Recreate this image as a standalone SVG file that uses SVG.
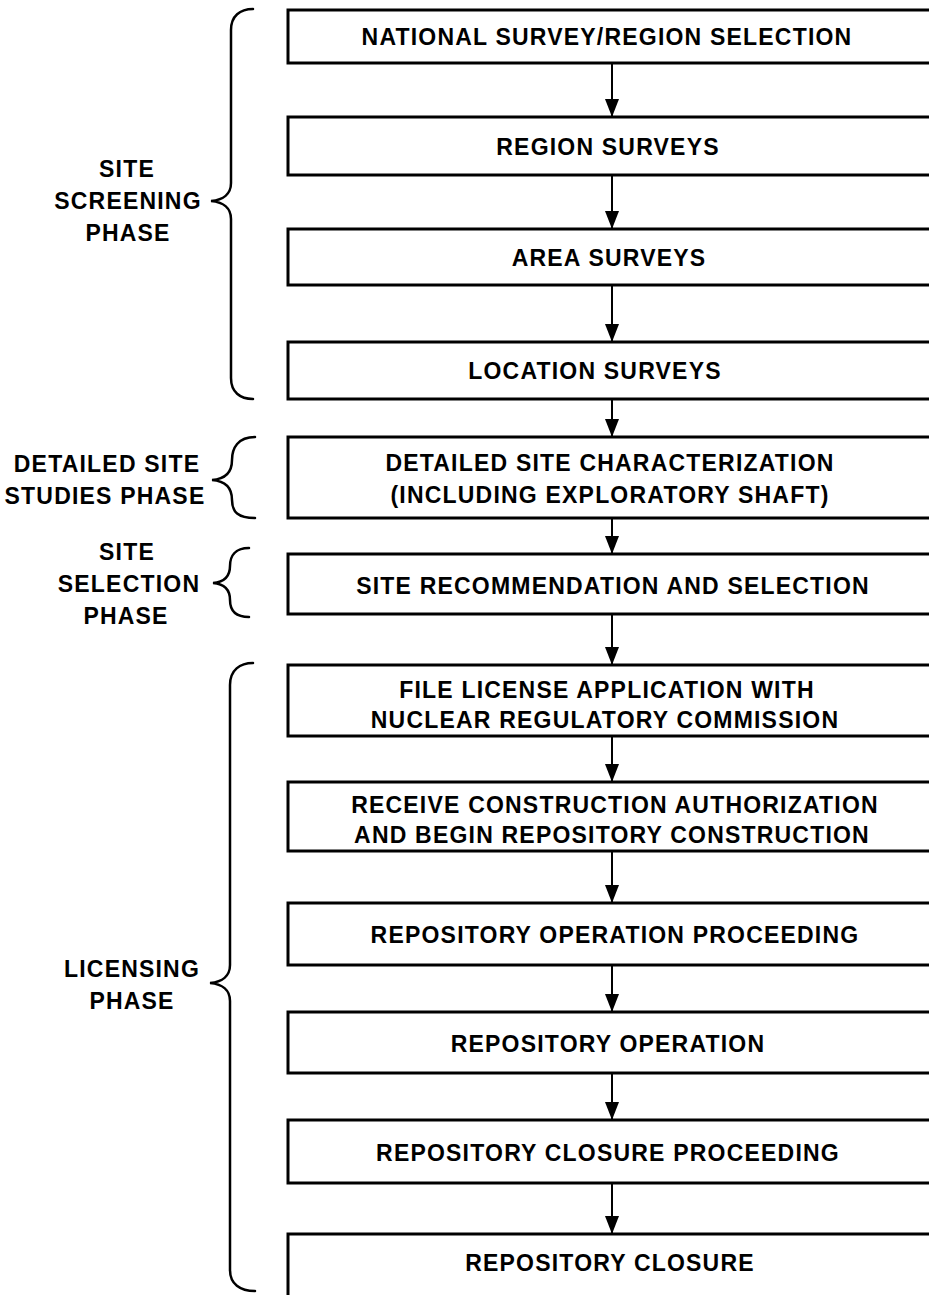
<svg xmlns="http://www.w3.org/2000/svg" width="929" height="1295" viewBox="0 0 929 1295">
  <style>
    .box { fill: #fff; stroke: #000; stroke-width: 3; }
    .t { font-family: "Liberation Sans", Arial, sans-serif; font-weight: bold; font-size: 23px; letter-spacing: 1.2px; fill: #000; text-anchor: middle; }
    .brace { fill: none; stroke: #000; stroke-width: 2.5; stroke-linecap: round; }
    .conn { stroke: #000; stroke-width: 2; fill: none; }
  </style>
  <defs>
    <!-- filled arrowhead, drawn along +x so orient="auto" turns it down the line -->
    <marker id="arrow" markerUnits="userSpaceOnUse" markerWidth="18" markerHeight="14" refX="18" refY="7" orient="auto" viewBox="0 0 18 14">
      <path d="M0,0 L18,7 L0,14 Z" fill="#000"/>
    </marker>
  </defs>
  <rect width="929" height="1295" fill="#fff"/>

  <!-- phase braces and labels -->
  <g id="phase-screening">
    <path class="brace" d="M253,9 C240,9 231,16 231,30 L231,183 C231,194 223,200 211,201 C223,202 231,208 231,219 L231,378 C231,392 240,399 253,399"/>
    <text class="t" x="127" y="177">SITE</text>
    <text class="t" x="128" y="209">SCREENING</text>
    <text class="t" x="128" y="241">PHASE</text>
  </g>
  <g id="phase-detailed">
    <path class="brace" d="M255,437 C238,437 232,448 232,460 C232,472 226,479 212,480 C226,481 232,488 232,500 C232,512 238,518 255,518"/>
    <text class="t" x="107" y="472">DETAILED SITE</text>
    <text class="t" x="105" y="504">STUDIES PHASE</text>
  </g>
  <g id="phase-selection">
    <path class="brace" d="M249,548 C235,548 230,556 230,566 C230,576 225,582 213,583 C225,584 230,590 230,600 C230,610 235,617 249,617"/>
    <text class="t" x="127" y="560">SITE</text>
    <text class="t" x="129" y="592">SELECTION</text>
    <text class="t" x="126" y="624">PHASE</text>
  </g>
  <g id="phase-licensing">
    <path class="brace" d="M253,663 C240,663 230,670 230,685 L230,965 C230,976 222,982 210,983 C222,984 230,990 230,1001 L230,1270 C230,1284 240,1291 255,1291"/>
    <text class="t" x="132" y="977">LICENSING</text>
    <text class="t" x="132" y="1009">PHASE</text>
  </g>

  <!-- connectors -->
  <g id="connectors">
    <line class="conn" x1="612" y1="63" x2="612" y2="117" marker-end="url(#arrow)"/>
    <line class="conn" x1="612" y1="175" x2="612" y2="229" marker-end="url(#arrow)"/>
    <line class="conn" x1="612" y1="285" x2="612" y2="342" marker-end="url(#arrow)"/>
    <line class="conn" x1="612" y1="399" x2="612" y2="437" marker-end="url(#arrow)"/>
    <line class="conn" x1="612" y1="518" x2="612" y2="554" marker-end="url(#arrow)"/>
    <line class="conn" x1="612" y1="614" x2="612" y2="665" marker-end="url(#arrow)"/>
    <line class="conn" x1="612" y1="736" x2="612" y2="782" marker-end="url(#arrow)"/>
    <line class="conn" x1="612" y1="851" x2="612" y2="903" marker-end="url(#arrow)"/>
    <line class="conn" x1="612" y1="965" x2="612" y2="1012" marker-end="url(#arrow)"/>
    <line class="conn" x1="612" y1="1073" x2="612" y2="1120" marker-end="url(#arrow)"/>
    <line class="conn" x1="612" y1="1183" x2="612" y2="1234" marker-end="url(#arrow)"/>
  </g>

  <!-- process steps -->
  <g id="n1"><rect class="box" x="288" y="10" width="660" height="53"/>
    <text class="t" x="607" y="45">NATIONAL SURVEY/REGION SELECTION</text></g>
  <g id="n2"><rect class="box" x="288" y="117" width="660" height="58"/>
    <text class="t" x="608" y="155">REGION SURVEYS</text></g>
  <g id="n3"><rect class="box" x="288" y="229" width="660" height="56"/>
    <text class="t" x="609" y="266">AREA SURVEYS</text></g>
  <g id="n4"><rect class="box" x="288" y="342" width="660" height="57"/>
    <text class="t" x="595" y="379">LOCATION SURVEYS</text></g>
  <g id="n5"><rect class="box" x="288" y="437" width="660" height="81"/>
    <text class="t" x="610" y="471">DETAILED SITE CHARACTERIZATION</text>
    <text class="t" x="610" y="503">(INCLUDING EXPLORATORY SHAFT)</text></g>
  <g id="n6"><rect class="box" x="288" y="554" width="660" height="60"/>
    <text class="t" x="613" y="594">SITE RECOMMENDATION AND SELECTION</text></g>
  <g id="n7"><rect class="box" x="288" y="665" width="660" height="71"/>
    <text class="t" x="607" y="698">FILE LICENSE APPLICATION WITH</text>
    <text class="t" x="605" y="728">NUCLEAR REGULATORY COMMISSION</text></g>
  <g id="n8"><rect class="box" x="288" y="782" width="660" height="69"/>
    <text class="t" x="615" y="813">RECEIVE CONSTRUCTION AUTHORIZATION</text>
    <text class="t" x="612" y="843">AND BEGIN REPOSITORY CONSTRUCTION</text></g>
  <g id="n9"><rect class="box" x="288" y="903" width="660" height="62"/>
    <text class="t" x="615" y="943">REPOSITORY OPERATION PROCEEDING</text></g>
  <g id="n10"><rect class="box" x="288" y="1012" width="660" height="61"/>
    <text class="t" x="608" y="1052">REPOSITORY OPERATION</text></g>
  <g id="n11"><rect class="box" x="288" y="1120" width="660" height="63"/>
    <text class="t" x="608" y="1161">REPOSITORY CLOSURE PROCEEDING</text></g>
  <g id="n12"><rect class="box" x="288" y="1234" width="660" height="80"/>
    <text class="t" x="610" y="1271">REPOSITORY CLOSURE</text></g>
</svg>
